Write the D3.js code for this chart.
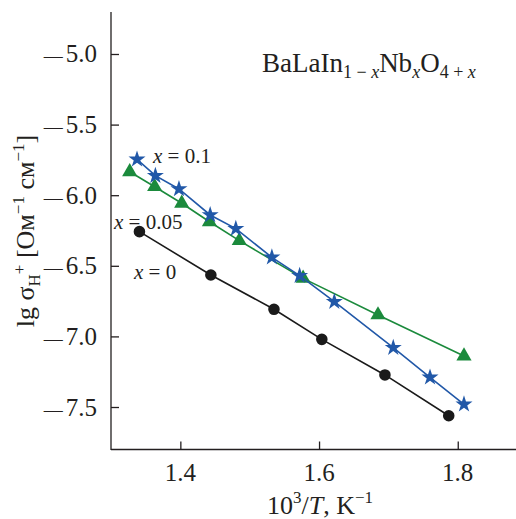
<!DOCTYPE html>
<html>
<head>
<meta charset="utf-8">
<script src="https://cdn.jsdelivr.net/npm/d3@7"></script>
<style>
  body { margin: 0; background: #fff; }
  svg text { font-family: "Liberation Serif", "Times New Roman", serif; fill: #231f20; }
</style>
</head>
<body>
<svg id="chart" width="516" height="519"></svg>
<script>
// data
const x0X = [1.341, 1.444, 1.535, 1.604, 1.695, 1.787];
const x0Y = [-6.258, -6.565, -6.808, -7.021, -7.273, -7.562];

const x005X = [1.327, 1.363, 1.402, 1.442, 1.485, 1.577, 1.685, 1.809];
const x005Y = [-5.834, -5.940, -6.057, -6.188, -6.322, -6.589, -6.848, -7.139];

const x01X = [1.3375, 1.364, 1.398, 1.443, 1.480, 1.532, 1.572, 1.622, 1.707, 1.760, 1.809];
const x01Y = [-5.746, -5.862, -5.956, -6.140, -6.237, -6.440, -6.570, -6.754, -7.080, -7.290, -7.481];

const xTicks = [1.4, 1.6, 1.8];
const yTicks = [-5.0, -5.5, -6.0, -6.5, -7.0, -7.5];

const svg = d3.select('#chart');

const x = d3.scaleLinear().domain([1.3, 1.884]).range([111, 516]);
const y = d3.scaleLinear().domain([-7.8045, -4.7026]).range([450, 12]);

function zip(xs, ys) {
    let ret = [];
    for (let i = 0; i < xs.length; i++) {
        ret.push({'x': xs[i], 'y': ys[i]});
    }
    return ret;
}

// axes
const xAxis = d3.axisTop(x).tickValues(xTicks).tickSize(8).tickFormat('');
const yAxis = d3.axisRight(y).tickValues(yTicks).tickSize(8).tickFormat('');

const gx = svg.append('g').attr('transform', 'translate(0,449.5)').call(xAxis);
const gy = svg.append('g').attr('transform', 'translate(111,0)').call(yAxis);
gx.select('.domain').attr('d', 'M111,0H516');
gy.select('.domain').attr('d', 'M0,12V450');
svg.selectAll('.domain, .tick line').attr('stroke', '#231f20').attr('stroke-width', 1.3);

svg.append('g')
    .selectAll('text')
    .data(xTicks)
    .enter().append('text')
    .attr('x', d => x(d))
    .attr('y', 481)
    .attr('text-anchor', 'middle')
    .style('font-size', '25px')
    .text(d => d.toFixed(1));

svg.append('g')
    .selectAll('text')
    .data(yTicks)
    .enter().append('text')
    .attr('x', 97)
    .attr('y', d => y(d) + 8.5)
    .attr('text-anchor', 'end')
    .style('font-size', '25px')
    .each(function(d) {
        const t = d3.select(this);
        if (d < 0) {
            t.append('tspan').style('font-size', '19px').text('\u2014');
            t.append('tspan').attr('dx', 3).text(Math.abs(d).toFixed(1));
        } else {
            t.text(d.toFixed(1));
        }
    });

// x axis title
const xt = svg.append('text')
    .attr('x', 320).attr('y', 514)
    .attr('text-anchor', 'middle')
    .style('font-size', '26px');
xt.append('tspan').text('10');
xt.append('tspan').attr('dy', -11).style('font-size', '17px').text('3');
xt.append('tspan').attr('dy', 11).text('/');
xt.append('tspan').style('font-style', 'italic').text('T');
xt.append('tspan').text(', K');
xt.append('tspan').attr('dy', -11).style('font-size', '17px').text('\u22121');

// y axis title
const yt = svg.append('text')
    .attr('transform', 'translate(34,231) rotate(-90)')
    .attr('text-anchor', 'middle')
    .style('font-size', '26px');
yt.append('tspan').text('lg \u03c3');
yt.append('tspan').attr('dy', 6).style('font-size', '17px').text('H');
yt.append('tspan').attr('dy', -15).style('font-size', '17px').text('+');
yt.append('tspan').attr('dy', 9).text(' [\u041e\u043c');
yt.append('tspan').attr('dy', -10).style('font-size', '17px').text('\u22121');
yt.append('tspan').attr('dy', 10).text(' \u0441\u043c');
yt.append('tspan').attr('dy', -10).style('font-size', '17px').text('\u22121');
yt.append('tspan').attr('dy', 10).text(']');

// formula
const ft = svg.append('text')
    .attr('x', 262).attr('y', 72)
    .style('font-size', '27px');
ft.append('tspan').text('BaLaIn');
ft.append('tspan').attr('dy', 6).style('font-size', '18px').text('1 \u2212 ');
ft.append('tspan').style('font-size', '18px').style('font-style', 'italic').text('x');
ft.append('tspan').attr('dy', -6).text('Nb');
ft.append('tspan').attr('dy', 6).style('font-size', '18px').style('font-style', 'italic').text('x');
ft.append('tspan').attr('dy', -6).text('O');
ft.append('tspan').attr('dy', 6).style('font-size', '18px').text('4 + ');
ft.append('tspan').style('font-size', '18px').style('font-style', 'italic').text('x');

// series
const line = d3.line().x(d => x(d.x)).y(d => y(d.y));

const series = [
    {data: zip(x0X, x0Y), color: '#1a1a1a', sym: d3.symbolCircle, size: 105},
    {data: zip(x005X, x005Y), color: '#1b8a3c', sym: d3.symbolTriangle, size: 100},
    {data: zip(x01X, x01Y), color: '#2158a8', sym: d3.symbolStar, size: 90}
];

series.forEach(function(s) {
    svg.append('path')
        .datum(s.data)
        .attr('d', line)
        .attr('fill', 'none')
        .attr('stroke', s.color)
        .attr('stroke-width', 1.6);
    svg.append('g')
        .selectAll('path')
        .data(s.data)
        .enter().append('path')
        .attr('transform', d => 'translate(' + x(d.x) + ',' + y(d.y) + ')')
        .attr('d', d3.symbol().type(s.sym).size(s.size))
        .attr('fill', s.color);
});

// series labels
function seriesLabel(px, py, val) {
    const t = svg.append('text').attr('x', px).attr('y', py).style('font-size', '21px');
    t.append('tspan').style('font-style', 'italic').text('x');
    t.append('tspan').text(' = ' + val);
}
seriesLabel(153, 163, '0.1');
seriesLabel(114, 229, '0.05');
seriesLabel(134, 279, '0');
</script>
</body>
</html>
